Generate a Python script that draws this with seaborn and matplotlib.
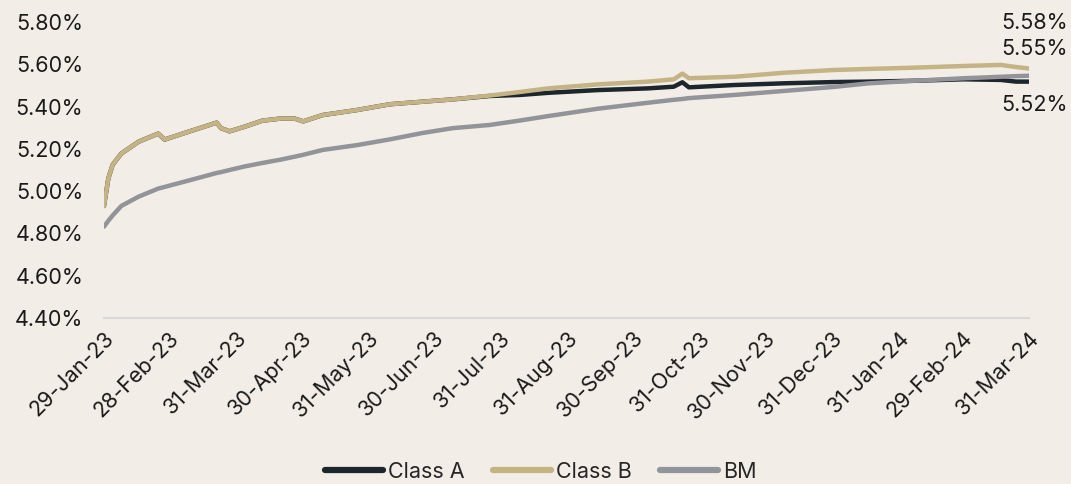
import pandas as pd
import matplotlib.pyplot as plt
import matplotlib.dates as mdates
from matplotlib.ticker import FuncFormatter
import seaborn as sns

# Data (yield, %)
dates = ['2023-01-29', '2023-01-31', '2023-02-02', '2023-02-06', '2023-02-14', '2023-02-23',
         '2023-02-26', '2023-03-09', '2023-03-22', '2023-03-24', '2023-03-28', '2023-04-04',
         '2023-04-12', '2023-04-21', '2023-04-27', '2023-05-01', '2023-05-10', '2023-05-26',
         '2023-06-10', '2023-06-25', '2023-07-09', '2023-07-26', '2023-08-09', '2023-08-22',
         '2023-09-14', '2023-10-07', '2023-10-19', '2023-10-23', '2023-10-26', '2023-11-16',
         '2023-12-09', '2024-01-01', '2024-01-17', '2024-02-07', '2024-03-01', '2024-03-18',
         '2024-03-25', '2024-03-31']

class_b = [4.930, 5.060, 5.125, 5.178, 5.234, 5.272, 5.244, 5.281, 5.324, 5.298, 5.283, 5.305,
           5.333, 5.344, 5.343, 5.330, 5.360, 5.384, 5.411, 5.423, 5.434, 5.452, 5.469, 5.486,
           5.505, 5.518, 5.529, 5.556, 5.534, 5.541, 5.560, 5.573, 5.578, 5.584, 5.592, 5.597,
           5.587, 5.580]

class_a = [4.930, 5.060, 5.125, 5.178, 5.234, 5.272, 5.244, 5.281, 5.324, 5.298, 5.283, 5.305,
           5.333, 5.344, 5.343, 5.330, 5.360, 5.384, 5.411, 5.423, 5.434, 5.450, 5.455, 5.465,
           5.478, 5.486, 5.494, 5.515, 5.491, 5.502, 5.510, 5.516, 5.518, 5.522, 5.529, 5.526,
           5.518, 5.518]

bm = [4.832, 4.860, 4.885, 4.930, 4.974, 5.012, 5.020, 5.050, 5.086, 5.090, 5.100, 5.117,
      5.133, 5.150, 5.163, 5.172, 5.195, 5.218, 5.245, 5.275, 5.298, 5.313, 5.334, 5.355,
      5.390, 5.418, 5.432, 5.436, 5.440, 5.455, 5.474, 5.493, 5.510, 5.522, 5.534, 5.541,
      5.544, 5.546]

tick_dates = ['2023-01-29', '2023-02-28', '2023-03-31', '2023-04-30', '2023-05-31', '2023-06-30',
              '2023-07-31', '2023-08-31', '2023-09-30', '2023-10-31', '2023-11-30', '2023-12-31',
              '2024-01-31', '2024-02-29', '2024-03-31']

series_names = ['Class A', 'Class B', 'BM']
colors = {'Class A': '#1d252d', 'Class B': '#c4b384', 'BM': '#939499'}

df = pd.DataFrame({'date': pd.to_datetime(dates), 'Class A': class_a, 'Class B': class_b, 'BM': bm})
long_df = df.melt(id_vars='date', value_vars=series_names, var_name='series', value_name='yield')

bg = '#f2eee7'
sns.set_style('white')
plt.rcParams['font.family'] = ['Inter', 'DejaVu Sans']
fs = 15.5

fig = plt.figure(figsize=(10.71, 4.84), dpi=100, facecolor=bg)
ax = fig.add_axes([104 / 1071, 1 - 318 / 484, (1029 - 104) / 1071, (318 - 22) / 484])
ax.set_facecolor(bg)

sns.lineplot(data=long_df, x='date', y='yield', hue='series', hue_order=series_names,
             palette=colors, linewidth=3.2, ax=ax, legend=False)

ax.set_xlim(pd.Timestamp(tick_dates[0]), pd.Timestamp(tick_dates[-1]))
ax.set_ylim(4.40, 5.80)
ax.set_yticks([4.40, 4.60, 4.80, 5.00, 5.20, 5.40, 5.60, 5.80])
ax.yaxis.set_major_formatter(FuncFormatter(lambda v, p: f'{v:.2f}%'))
ax.set_xticks(pd.to_datetime(tick_dates))
ax.xaxis.set_major_formatter(mdates.DateFormatter('%d-%b-%y'))
ax.set_xlabel('')
ax.set_ylabel('')

for s in ['top', 'right', 'left']:
    ax.spines[s].set_visible(False)
ax.spines['bottom'].set_color('#d9d9d9')
ax.spines['bottom'].set_linewidth(1.5)
ax.tick_params(axis='x', length=5, width=1.5, color='#d9d9d9', labelsize=fs,
               labelcolor='#1a1a1a', pad=2)
ax.tick_params(axis='y', length=0, labelsize=fs, labelcolor='#1a1a1a', pad=15)
plt.setp(ax.get_xticklabels(), rotation=45, ha='right', rotation_mode='anchor')

# end-of-series value labels
last_date = df['date'].iloc[-1]
offsets = {'Class B': 33, 'BM': 19, 'Class A': -17}
for name in ['Class B', 'BM', 'Class A']:
    v = df[name].iloc[-1]
    ax.annotate(f'{v:.2f}%', xy=(last_date, v), xytext=(28, offsets[name]),
                textcoords='offset points', ha='right', va='center',
                fontsize=fs, color='#1a1a1a')

handles = [plt.Line2D([], [], color=colors[n], lw=4.5, solid_capstyle='round') for n in series_names]
fig.legend(handles, series_names, loc='center', bbox_to_anchor=(0.505, 0.025), ncol=3,
           frameon=False, fontsize=fs, handlelength=2.7, handletextpad=0.25,
           columnspacing=1.3)

fig.savefig('out.png', dpi=100, facecolor=bg)
